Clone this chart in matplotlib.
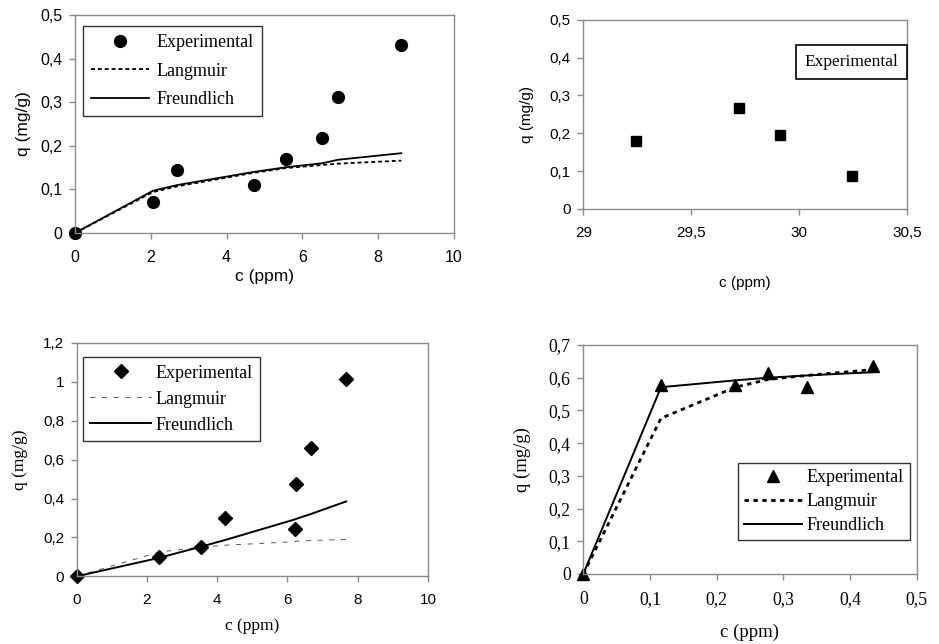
import numpy as np
import matplotlib
matplotlib.use('Agg')
import matplotlib.pyplot as plt
from matplotlib.ticker import FuncFormatter
from matplotlib.lines import Line2D

SANS = 'Liberation Sans'
SERIF = 'Liberation Serif'

# top left panel
c1 = [0, 2.06, 2.70, 4.71, 5.58, 6.53, 6.94, 8.61]
q1_exp = [0, 0.072, 0.145, 0.110, 0.169, 0.217, 0.311, 0.432]
q1_lang = [0, 0.094, 0.107, 0.138, 0.149, 0.156, 0.159, 0.166]
q1_freu = [0, 0.097, 0.110, 0.140, 0.151, 0.160, 0.168, 0.183]

# top right panel
c2 = [29.244, 29.722, 29.910, 30.244]
q2_exp = [0.179, 0.267, 0.195, 0.088]

# bottom left panel
c3 = [0, 2.35, 3.55, 4.23, 6.20, 6.24, 6.66, 7.67]
q3_exp = [0, 0.098, 0.153, 0.300, 0.243, 0.477, 0.662, 1.017]
q3_lang = [0, 0.125, 0.150, 0.160, 0.178, 0.180, 0.184, 0.190]
q3_freu = [0, 0.095, 0.153, 0.187, 0.292, 0.295, 0.320, 0.385]

# bottom right panel
c4 = [0, 0.1165, 0.228, 0.2775, 0.336, 0.435]
q4_exp = [0, 0.578, 0.578, 0.613, 0.573, 0.637]
q4_lang = [0, 0.476, 0.571, 0.595, 0.607, 0.625]
q4_freu = [0, 0.571, 0.592, 0.600, 0.607, 0.617]

W, H = 939, 644


def comma(v, pos):
    return ('%g' % round(v, 6)).replace('.', ',')


def box(l, t, r, b):
    # pixel box -> figure fraction
    return [l / W, 1 - b / H, (r - l) / W, (b - t) / H]


def style(ax, xt, yt, font, size, lab_font, lab_size, xlab_y, ylab_x):
    ax.set_xticks(xt)
    ax.set_yticks(yt)
    ax.set_xlim(xt[0], xt[-1])
    ax.set_ylim(yt[0], yt[-1])
    ax.xaxis.set_major_formatter(FuncFormatter(comma))
    ax.yaxis.set_major_formatter(FuncFormatter(comma))
    for s in ax.spines.values():
        s.set_color('#8a8a8a')
        s.set_linewidth(1.0)
    ax.tick_params(axis='both', direction='out', length=4, width=1.0,
                   color='#8a8a8a', labelsize=size)
    ax.tick_params(axis='x', pad=8)
    ax.tick_params(axis='y', pad=5)
    for lab in ax.get_xticklabels() + ax.get_yticklabels():
        lab.set_fontfamily(font)
    ax.set_xlabel('c (ppm)', fontfamily=lab_font, fontsize=lab_size)
    ax.set_ylabel('q (mg/g)', fontfamily=lab_font, fontsize=lab_size)
    ax.xaxis.set_label_coords(0.5, xlab_y)
    ax.yaxis.set_label_coords(ylab_x, 0.5)
    ax.xaxis.label.set_verticalalignment('center')
    ax.yaxis.label.set_verticalalignment('center')


fig = plt.figure(figsize=(W / 100, H / 100), dpi=100)
fig.patch.set_facecolor('white')

leg_kw = dict(frameon=True, fancybox=False, framealpha=1, edgecolor='#333333',
              prop={'family': SERIF, 'size': 13}, borderaxespad=0,
              loc='upper left', bbox_transform=fig.transFigure)

# top left
ax1 = fig.add_axes(box(75, 15, 454, 233))
ax1.plot(c1, q1_lang, color='black', lw=1.3, ls=(0, (2.2, 1.6)), label='Langmuir')
ax1.plot(c1, q1_freu, color='black', lw=1.3, label='Freundlich')
ax1.plot(c1, q1_exp, 'o', color='black', ms=8.5, clip_on=False, label='Experimental')
style(ax1, np.arange(0, 11, 2), np.arange(0, 0.51, 0.1), SANS, 11.5, SANS, 12.5,
      -0.20, -0.135)
h, l = ax1.get_legend_handles_labels()
leg = ax1.legend([h[2], h[0], h[1]], [l[2], l[0], l[1]], handlelength=3.2,
                 handletextpad=0.45, labelspacing=0.65, borderpad=0.45,
                 bbox_to_anchor=(82.7 / W, 1 - 25.7 / H), **leg_kw)
leg.get_frame().set_linewidth(1.0)

# top right
ax2 = fig.add_axes(box(583.3, 19.7, 907.3, 209))
ax2.plot(c2, q2_exp, 's', color='black', ms=7.7, clip_on=False)
style(ax2, [29, 29.5, 30, 30.5], np.arange(0, 0.51, 0.1), SANS, 11, SANS, 11,
      -0.39, -0.175)
blank = Line2D([], [], linestyle='none')
leg = ax2.legend([blank], ['Experimental'], handlelength=0, handletextpad=0,
                 borderpad=0.5, bbox_to_anchor=(796 / W, 1 - 45 / H),
                 **dict(leg_kw, prop={'family': SERIF, 'size': 12.5}))
leg.get_frame().set_linewidth(1.2)
leg.get_frame().set_edgecolor('black')

# bottom left
ax3 = fig.add_axes(box(76.7, 343, 428, 576.3))
ax3.plot(c3, q3_lang, color='#555555', lw=0.7, ls=(0, (5, 7)), label='Langmuir')
ax3.plot(c3, q3_freu, color='black', lw=1.4, label='Freundlich')
ax3.plot(c3, q3_exp, 'D', color='black', ms=7, clip_on=False, label='Experimental')
style(ax3, np.arange(0, 11, 2), np.arange(0, 1.21, 0.2), SANS, 11, SERIF, 12.5,
      -0.215, -0.16)
h, l = ax3.get_legend_handles_labels()
leg = ax3.legend([h[2], h[0], h[1]], [l[2], l[0], l[1]], handlelength=3.4,
                 handletextpad=0.25, labelspacing=0.5, borderpad=0.4,
                 bbox_to_anchor=(82.7 / W, 1 - 357.3 / H), **leg_kw)
leg.get_frame().set_linewidth(1.0)

# bottom right
ax4 = fig.add_axes(box(583.3, 345, 916.7, 574))
ax4.plot(c4, q4_lang, color='black', lw=2.0, ls=(0, (1.6, 1.6)), label='Langmuir')
ax4.plot(c4, q4_freu, color='black', lw=1.4, label='Freundlich')
ax4.plot(c4, q4_exp, '^', color='black', ms=8, clip_on=False, label='Experimental')
style(ax4, np.arange(0, 0.51, 0.1), np.arange(0, 0.71, 0.1), SERIF, 12.8, SERIF, 13.5,
      -0.255, -0.182)
h, l = ax4.get_legend_handles_labels()
leg = ax4.legend([h[2], h[0], h[1]], [l[2], l[0], l[1]], handlelength=3.2,
                 handletextpad=0.25, labelspacing=0.38, borderpad=0.35,
                 bbox_to_anchor=(738 / W, 1 - 463 / H), **leg_kw)
leg.get_frame().set_linewidth(1.0)

fig.savefig('out.png', dpi=100)
